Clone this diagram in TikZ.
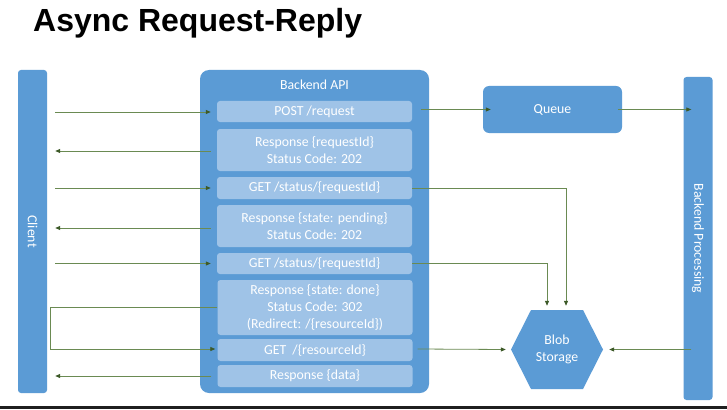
\documentclass[tikz,border=0pt]{standalone}
\usepackage{fontspec}
\setmainfont{Carlito}
\newfontfamily\titlefont{Liberation Sans}
\usetikzlibrary{arrows.meta,calc}
\definecolor{mainblue}{HTML}{5B9BD5}
\definecolor{lightblue}{HTML}{9FC3E7}
\definecolor{linegreen}{HTML}{6A8A52}
\definecolor{tipgreen}{HTML}{3D5A28}
\tikzset{
  txt/.style={font=\fontsize{13.8}{16.8}\selectfont, text=white, align=center},
  bar/.style={fill=mainblue, draw=none, rounded corners=3pt, minimum width=29pt, minimum height=323pt, inner sep=0pt, txt},
  innerbox/.style={fill=lightblue, draw=none, rounded corners=3pt, minimum width=195pt, inner sep=0pt, txt},
  arr/.style={draw=linegreen, line width=0.8pt, -{Triangle[length=5pt,width=4pt,color=tipgreen,fill=tipgreen]}},
}
\begin{document}
\begin{tikzpicture}[x=1pt,y=-1pt]
\useasboundingbox (0,0) rectangle (727,409);
\fill[white] (0,0) rectangle (727,409);
\fill[black!88] (0,406) rectangle (727,409);
% title
\node[anchor=base west, inner sep=0pt, font=\titlefont\bfseries\fontsize{32}{36}\selectfont] (title) at (33,32) {Async Request-Reply};
% client and backend processing bars
\node[bar] (client) at (32.5,231.5) {};
\node[txt, rotate=-90] (clientlbl) at (client.center) {Client};
\node[bar] (bp) at (698,238.5) {};
\node[txt, rotate=-90] (bplbl) at (bp.center) {Backend Processing};
% backend api
\node[fill=mainblue, draw=none, rounded corners=9pt, minimum width=229pt, minimum height=323pt, inner sep=0pt] (api) at (314.5,231.5) {};
\node[txt] (apilbl) at (314.5,84.5) {Backend API};
\node[innerbox, minimum height=21pt] (b1) at (314.5,111.5) {POST /request};
\node[innerbox, minimum height=42pt] (b2) at (314.5,150) {Response \{requestId\}\\Status Code: 202};
\node[innerbox, minimum height=22pt] (b3) at (314.5,188) {GET /status/\{requestId\}};
\node[innerbox, minimum height=42pt] (b4) at (314.5,226) {Response \{state: pending\}\\Status Code: 202};
\node[innerbox, minimum height=21pt] (b5) at (314.5,263.5) {GET /status/\{requestId\}};
\node[innerbox, minimum height=55pt] (b6) at (315,307.5) {Response \{state: done\}\\Status Code: 302\\(Redirect: /\{resourceId\})};
\node[innerbox, minimum height=22pt] (b7) at (315,350) {GET\ \ /\{resourceId\}};
\node[innerbox, minimum height=22pt] (b8) at (315,376) {Response \{data\}};
% queue
\node[fill=mainblue, draw=none, rounded corners=6pt, minimum width=139pt, minimum height=47pt, inner sep=0pt, txt] (queue) at (552.5,109.5) {Queue};
% blob storage hexagon
\fill[mainblue] (511,349.5) -- (531,310) -- (583,310) -- (603,349.5) -- (583,389) -- (531,389) -- cycle;
\node[txt, minimum width=92pt, minimum height=79pt, inner sep=0pt] (blob) at (557,349.5) {Blob\\Storage};
% client <-> api arrows
\draw[arr] ($(client.east |- b1)+(8,0.5)$) -- ($(b1.west)+(-6,0.5)$);
\draw[arr] ($(b2.west)+(-6,1)$) -- ($(client.east |- b2)+(8,1)$);
\draw[arr] ($(client.east |- b3)+(8,0)$) -- ($(b3.west)+(-6,0)$);
\draw[arr] ($(b4.west)+(-6,2)$) -- ($(client.east |- b4)+(8,2)$);
\draw[arr] ($(client.east |- b5)+(8,0)$) -- ($(b5.west)+(-6,0)$);
\coordinate (rd1) at ($(b6.west)+(0,-0.5)$);
\coordinate (rd2) at (50,307);
\coordinate (rd3) at (50,349);
\draw[arr] (rd1) -- (rd2) -- (rd3) -- ($(b7.west)+(-2,-1)$);
\draw[arr] ($(b8.west)+(-6,0)$) -- ($(client.east |- b8)+(8,0)$);
% api -> queue -> bp
\draw[arr] ($(queue.west)+(-62,0)$) -- ($(queue.west)+(8,0)$);
\draw[arr] ($(queue.east)+(-4,0)$) -- ($(bp.west |- queue)+(8,0)$);
% status -> blob
\coordinate (s1) at (566,188);
\draw[arr] (b3.east) -- (s1) -- ($(s1 |- blob.north)+(0,-4)$);
\coordinate (s2) at (547,263);
\draw[arr] ($(b5.east)+(0,-0.5)$) -- (s2) -- ($(s2 |- blob.north)+(0,-4)$);
% resource -> blob
\draw[arr] ($(b7.east)+(5,-1)$) -- ($(blob.west)+(-5,0)$);
% bp -> blob
\draw[arr] ($(bp.west |- blob)+(8,0)$) -- ($(blob.east)+(6,0)$);
\end{tikzpicture}
\end{document}
